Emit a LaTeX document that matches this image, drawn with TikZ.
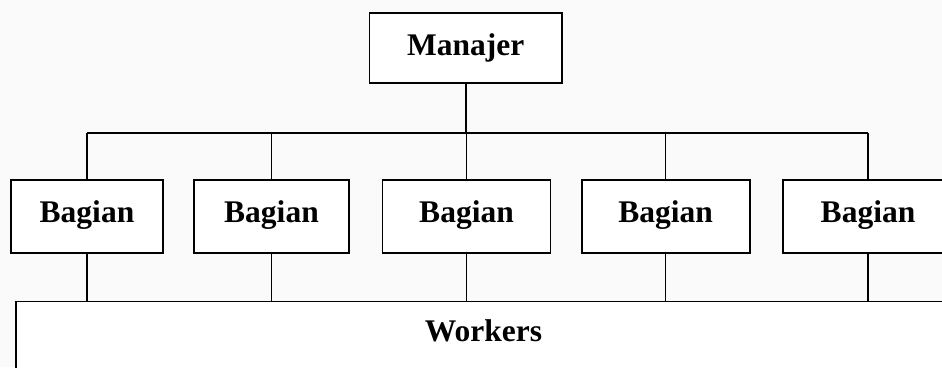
\documentclass[tikz,border=0pt]{standalone}
\usepackage{fontspec}
\setmainfont{Liberation Serif}
\begin{document}
\begin{tikzpicture}[x=1pt,y=-1pt,
  box/.style={draw=black, line width=1.7pt, fill=white, inner sep=0pt,
    font=\fontsize{31.5}{36}\selectfont\bfseries},
  bagbox/.style={box, minimum width=#1, text height=42pt, text depth=30.4pt},
  conn/.style={draw=black, line width=1.4pt}
]
\clip (0,0) rectangle (942,367);
\fill[black!2] (0,0) rectangle (942,367);
% manager
\node[box, minimum width=192.5pt, text height=41.7pt, text depth=27.7pt] (m) at (465.8,48) {Manajer};
\coordinate (bus) at (0,133);
% departments
\node[bagbox=152.5pt] (b1) at (87,216.5) {Bagian};
\node[bagbox=155pt] (b2) at (271.5,216.5) {Bagian};
\node[bagbox=168pt] (b3) at (466.5,216.5) {Bagian};
\node[bagbox=168pt] (b4) at (665.7,216.5) {Bagian};
\node[bagbox=170pt] (b5) at (868,216.5) {Bagian};
% workers
\node[box, anchor=north west, minimum width=1000pt, minimum height=150pt] (w) at (15,300.7) {};
\node[font=\fontsize{31.5}{36}\selectfont\bfseries, anchor=base, inner sep=0pt] (wl) at (483.5,341.7) {Workers};
% connectors
\draw[conn] (m.south) -- (m.south |- bus);
\draw[conn] (b1.north |- bus) -- (b5.north |- bus);
\foreach \b in {b1,b2,b3,b4,b5}{
  \draw[conn] (\b.north) -- (\b.north |- bus);
  \draw[conn] (\b.south) -- (\b.south |- w.north);
}
\end{tikzpicture}
\end{document}
